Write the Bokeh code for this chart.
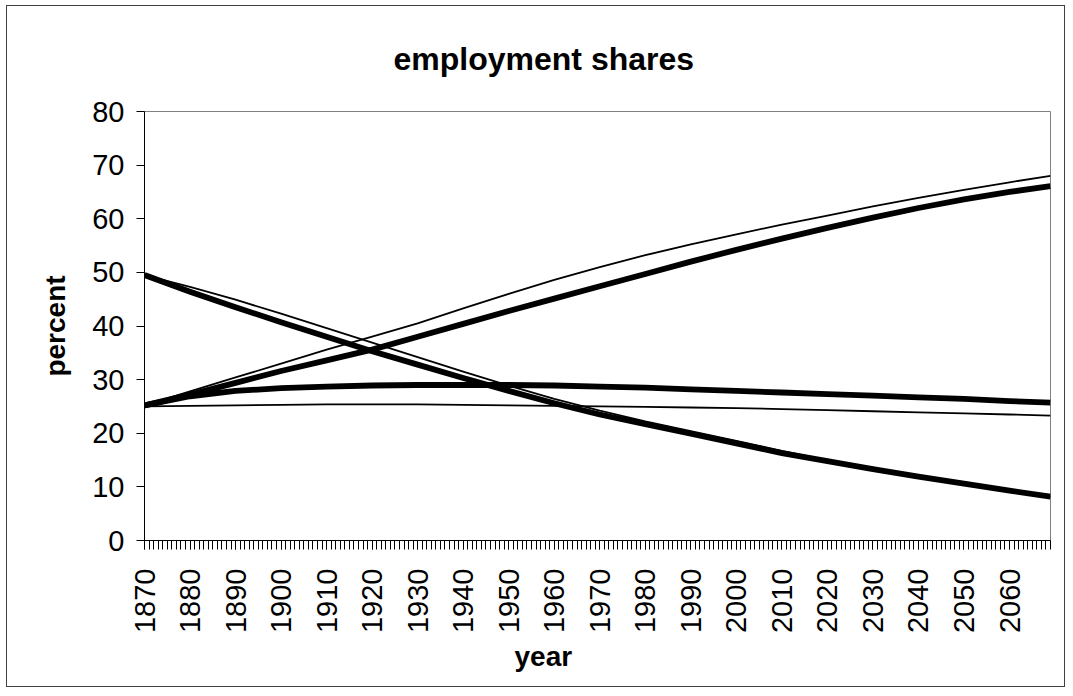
import math
from bokeh.plotting import figure
from bokeh.models import Range1d, FixedTicker, Title
from bokeh.embed import file_html
from bokeh.resources import INLINE

# ---- data ----
years = [1870, 1880, 1890, 1900, 1910, 1920, 1930, 1940, 1950, 1960, 1970,
         1980, 1990, 2000, 2010, 2020, 2030, 2040, 2050, 2060, 2069]

rising_thick = [25.2, 27.2, 29.4, 31.6, 33.6, 35.6, 38.0, 40.4, 42.8, 45.1, 47.4,
                49.7, 52.0, 54.2, 56.3, 58.3, 60.2, 62.0, 63.6, 65.0, 66.1]
rising_thin = [25.2, 27.8, 30.4, 33.0, 35.6, 38.0, 40.5, 43.3, 46.0, 48.6, 51.0,
               53.2, 55.2, 57.1, 58.9, 60.6, 62.3, 63.9, 65.4, 66.8, 68.0]
falling_thick = [49.5, 46.4, 43.5, 40.7, 38.0, 35.3, 32.8, 30.3, 27.9, 25.6, 23.5,
                 21.7, 19.9, 18.1, 16.3, 14.8, 13.3, 11.9, 10.6, 9.3, 8.2]
falling_thin = [49.5, 47.3, 44.9, 42.3, 39.6, 36.9, 34.2, 31.5, 28.9, 26.4, 24.2,
                22.2, 20.4, 18.6, 16.7, 15.0, 13.4, 11.9, 10.5, 9.3, 8.2]
flat_thick = [25.2, 26.9, 27.9, 28.4, 28.7, 28.9, 29.0, 29.0, 29.0, 28.9, 28.7,
              28.5, 28.2, 27.9, 27.6, 27.3, 27.0, 26.7, 26.4, 26.0, 25.7]
flat_thin = [25.0, 25.1, 25.2, 25.3, 25.4, 25.4, 25.4, 25.3, 25.2, 25.1, 25.0,
             24.9, 24.8, 24.7, 24.5, 24.3, 24.1, 23.9, 23.7, 23.5, 23.3]

x_tick_labels = list(range(1870, 2061, 10))
x_minor = list(range(1870, 2070))
y_ticks = [0, 10, 20, 30, 40, 50, 60, 70, 80]

FONT = "Liberation Sans"

p = figure(frame_width=906, frame_height=429,
           min_border_left=137, min_border_right=14,
           min_border_top=105, min_border_bottom=146,
           x_range=Range1d(1870, 2069), y_range=Range1d(0, 80),
           output_backend="svg", toolbar_location=None,
           title="employment shares")

p.styles = {"border": "1px solid #404040", "margin-left": "6px", "margin-top": "5px"}
p.background_fill_color = "white"
p.border_fill_color = "white"
p.outline_line_color = "#808080"
p.outline_line_width = 1
p.xgrid.visible = False
p.ygrid.visible = False

p.title.text_font = FONT
p.title.text_font_size = "32px"
p.title.text_font_style = "bold"
p.title.text_color = "black"
p.title.align = "left"
p.title.offset = 249
p.title.vertical_align = "top"
p.title.standoff = 66

for ys, w in [(flat_thin, 1.8), (rising_thin, 1.8), (falling_thin, 1.8),
              (flat_thick, 5.8), (rising_thick, 5.8), (falling_thick, 5.8)]:
    p.line(years, ys, line_color="black", line_width=w, line_join="round")

# x axis
xa = p.xaxis[0]
xa.ticker = FixedTicker(ticks=x_tick_labels, minor_ticks=x_minor)
xa.major_label_orientation = math.pi / 2
xa.major_label_text_font = FONT
xa.major_label_text_font_size = "29px"
xa.major_label_text_color = "black"
xa.major_label_standoff = 19
xa.major_tick_in = 0
xa.major_tick_out = 9
xa.minor_tick_in = 0
xa.minor_tick_out = 9
xa.major_tick_line_color = "black"
xa.minor_tick_line_color = "black"
xa.axis_line_color = "black"

# y axis
ya = p.yaxis[0]
ya.ticker = FixedTicker(ticks=y_ticks)
ya.major_label_text_font = FONT
ya.major_label_text_font_size = "29px"
ya.major_label_text_color = "black"
ya.major_label_standoff = 12
ya.major_tick_in = 0
ya.major_tick_out = 8
ya.minor_tick_line_color = None
ya.major_tick_line_color = "black"
ya.axis_line_color = "black"
ya.axis_label = "percent"
ya.axis_label_text_font = FONT
ya.axis_label_text_font_size = "28px"
ya.axis_label_text_font_style = "bold"
ya.axis_label_text_color = "black"
ya.axis_label_standoff = 18

year_title = Title(text="year", align="left", offset=370,
                   text_font=FONT, text_font_size="28px", text_font_style="bold",
                   text_color="black", standoff=4)
p.add_layout(year_title, "below")

open("out.html", "w").write(file_html(p, INLINE))
